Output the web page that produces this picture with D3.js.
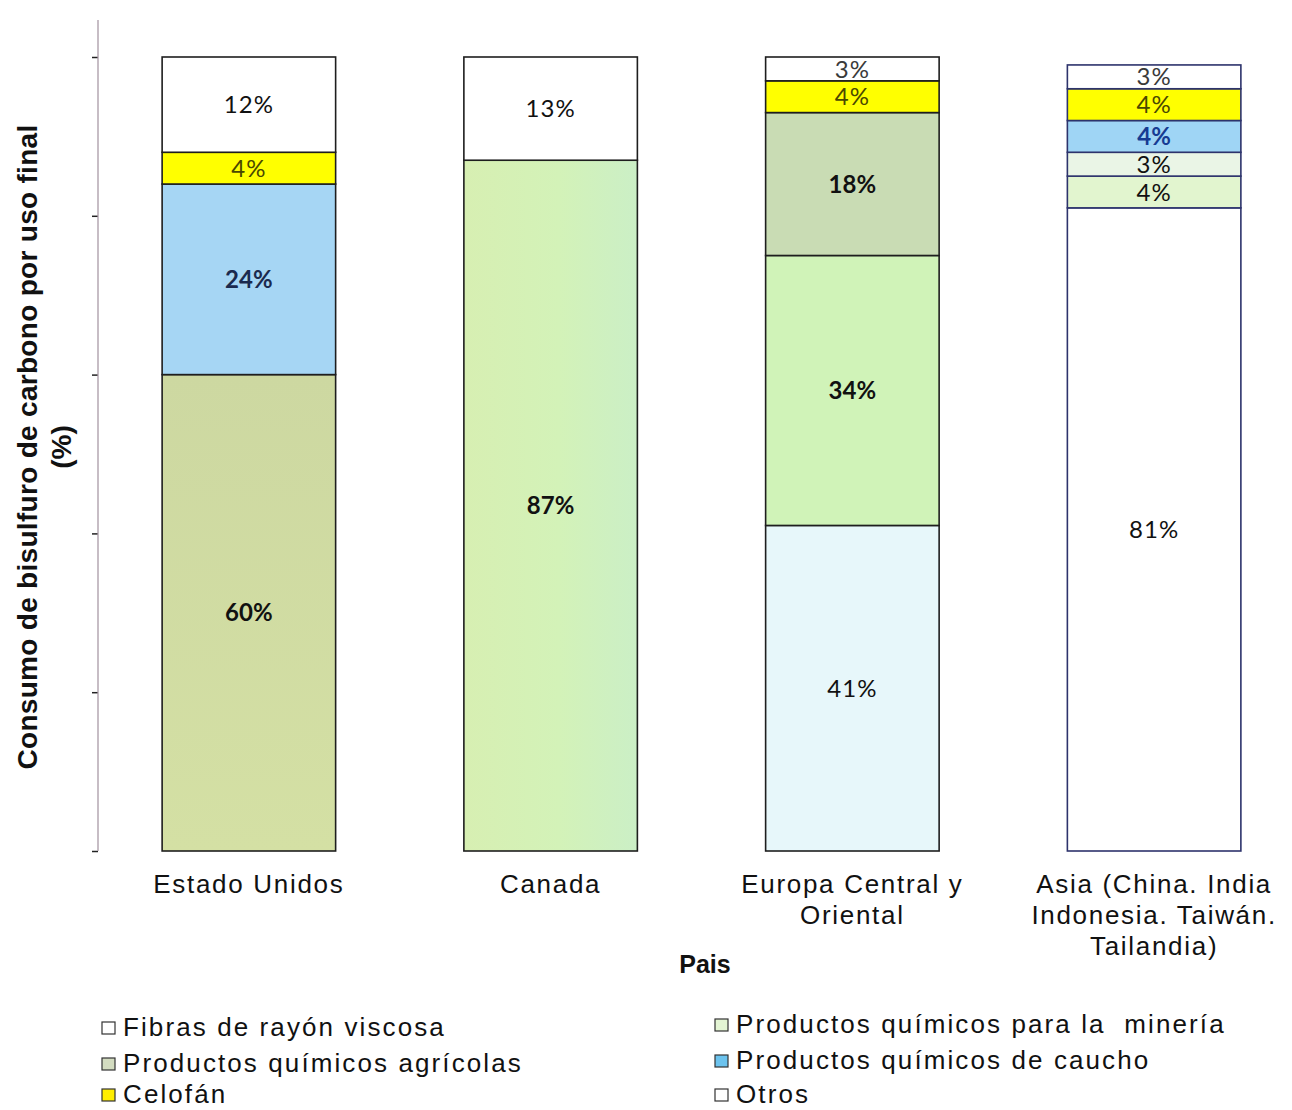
<!DOCTYPE html>
<html>
<head>
<meta charset="utf-8">
<script src="https://cdn.jsdelivr.net/npm/d3@7"></script>
<style>
  html, body { margin: 0; padding: 0; background: #fff; }
  svg { display: block; }
</style>
</head>
<body>
<svg id="chart" width="1292" height="1110"></svg>
<script>
// Countries / regions on the x axis
const countries = ["Estado Unidos", "Canada", "Europa Central y Oriental", "Asia"];
const countryLines = [
  ["Estado Unidos"],
  ["Canada"],
  ["Europa Central y", "Oriental"],
  ["Asia (China. India", "Indonesia. Taiwán.", "Tailandia)"]
];

// End uses, stacked bottom to top
const seriesKeys = ["fibras", "mineria", "agricolas", "caucho", "celofan", "otros"];
const seriesNames = {
  fibras: "Fibras de rayón viscosa",
  agricolas: "Productos químicos agrícolas",
  celofan: "Celofán",
  mineria: "Productos químicos para la  minería",
  caucho: "Productos químicos de caucho",
  otros: "Otros"
};

// Share of carbon disulfide consumption (%) per end use
const fibras    = [0,  0,  41, 81];
const mineria   = [0,  87, 34, 4];
const agricolas = [60, 0,  18, 3];
const caucho    = [24, 0,  0,  4];
const celofan   = [4,  0,  4,  4];
const otros     = [12, 13, 3,  3];

const yTicks = [0, 20, 40, 60, 80, 100];

// Legend layout: left column then right column
const legendLeft = ["fibras", "agricolas", "celofan"];
const legendRight = ["mineria", "caucho", "otros"];

// ---- styling ----
const baseColor = {
  fibras: "#ffffff",
  mineria: "#d2f1b9",
  agricolas: "#cfd9a2",
  caucho: "#a6d6f4",
  celofan: "#ffff00",
  otros: "#ffffff"
};
// region-specific shades
const shade = {
  "Europa Central y Oriental|fibras": "#e7f7fa",
  "Europa Central y Oriental|agricolas": "#c9dcb4",
  "Europa Central y Oriental|mineria": "#d0f3b8",
  "Asia|mineria": "#e2f5cf",
  "Asia|agricolas": "#eaf5e6",
  "Asia|caucho": "#9fd5f5"
};
const boldLabels = new Set([
  "Estado Unidos|agricolas", "Estado Unidos|caucho", "Canada|mineria",
  "Europa Central y Oriental|mineria", "Europa Central y Oriental|agricolas",
  "Asia|caucho"
]);
const labelColor = {
  celofan: "#4a4800",
  otros: "#3a3a3a"
};
const labelColorOverride = {
  "Estado Unidos|caucho": "#1b2a4e",
  "Asia|caucho": "#163b92",
  "Estado Unidos|otros": "#111",
  "Canada|otros": "#111"
};
const legendSwatch = {
  fibras: "#ffffff", agricolas: "#d3dcc0", celofan: "#ffee00",
  mineria: "#e4f5d4", caucho: "#6cc3ee", otros: "#ffffff"
};

const svg = d3.select("#chart");

// Gradients for the Canada mining block and the US agricultural block
const defs = svg.append("defs");
const g1 = defs.append("linearGradient").attr("id", "gradMin").attr("x1", "0").attr("x2", "1").attr("y1", "0").attr("y2", "0");
g1.append("stop").attr("offset", "0%").attr("stop-color", "#d7efb2");
g1.append("stop").attr("offset", "55%").attr("stop-color", "#d3f2b8");
g1.append("stop").attr("offset", "100%").attr("stop-color", "#cbefc6");
const g2 = defs.append("linearGradient").attr("id", "gradAgr").attr("x1", "0").attr("x2", "0").attr("y1", "0").attr("y2", "1");
g2.append("stop").attr("offset", "0%").attr("stop-color", "#cdd8a1");
g2.append("stop").attr("offset", "100%").attr("stop-color", "#d4e0a4");

const rows = countries.map((c, i) => ({
  country: c,
  fibras: fibras[i], mineria: mineria[i], agricolas: agricolas[i],
  caucho: caucho[i], celofan: celofan[i], otros: otros[i]
}));

const x = d3.scaleBand()
  .domain(countries)
  .range([98, 1305])
  .paddingInner(0.425)
  .paddingOuter(0.2125);

const y = d3.scaleLinear().domain([0, 100]).range([851, 57]);

const stack = d3.stack().keys(seriesKeys);
const layers = stack(rows);

// Y axis: line with outward ticks and no labels
const axisG = svg.append("g").attr("transform", "translate(98,0)");
axisG.call(d3.axisLeft(y).tickValues(yTicks).tickSize(6).tickFormat(""));
axisG.select(".domain").remove();
axisG.selectAll(".tick line").attr("stroke", "#222").attr("stroke-width", 1.5);
axisG.append("line")
  .attr("x1", 0).attr("x2", 0).attr("y1", 20).attr("y2", y(0))
  .attr("stroke", "#a99aa6").attr("stroke-width", 1.3);

function fillFor(country, key) {
  const k = country + "|" + key;
  if (k === "Canada|mineria") return "url(#gradMin)";
  if (k === "Estado Unidos|agricolas") return "url(#gradAgr)";
  return shade[k] || baseColor[key];
}

const barsG = svg.append("g");
layers.forEach(layer => {
  const key = layer.key;
  layer.forEach(seg => {
    const country = seg.data.country;
    const v = seg.data[key];
    if (!v) return;
    const isAsia = country === "Asia";
    barsG.append("rect")
      .attr("x", x(country))
      .attr("width", x.bandwidth())
      .attr("y", y(seg[1]))
      .attr("height", y(seg[0]) - y(seg[1]))
      .attr("fill", fillFor(country, key))
      .attr("stroke", isAsia ? "#2d336c" : "#1e1e1e")
      .attr("stroke-width", 1.6);
  });
});

// Value labels
const labelsG = svg.append("g");
layers.forEach(layer => {
  const key = layer.key;
  layer.forEach(seg => {
    const country = seg.data.country;
    const v = seg.data[key];
    if (!v) return;
    const k = country + "|" + key;
    const bold = boldLabels.has(k);
    labelsG.append("text")
      .attr("x", x(country) + x.bandwidth() / 2)
      .attr("y", (y(seg[0]) + y(seg[1])) / 2)
      .attr("dy", "0.36em")
      .attr("text-anchor", "middle")
      .attr("font-family", "Lato, 'Open Sans', sans-serif")
      .attr("font-size", 24)
      .attr("font-weight", bold ? 700 : 400)
      .attr("letter-spacing", bold ? 0 : 1)
      .attr("fill", labelColorOverride[k] || labelColor[key] || "#111")
      .text(v + "%");
  });
});

// Category labels under the bars
const xl = svg.append("g")
  .attr("font-family", "'Liberation Sans', Arial, sans-serif")
  .attr("font-size", 26)
  .attr("letter-spacing", 1.7)
  .attr("fill", "#111")
  .attr("text-anchor", "middle");
countries.forEach((c, i) => {
  countryLines[i].forEach((line, j) => {
    xl.append("text")
      .attr("x", x(c) + x.bandwidth() / 2)
      .attr("y", 893 + j * 31)
      .text(line);
  });
});

// Axis titles
svg.append("text")
  .attr("x", 705).attr("y", 973)
  .attr("text-anchor", "middle")
  .attr("font-family", "'Liberation Sans', Arial, sans-serif")
  .attr("font-size", 25).attr("font-weight", 700).attr("fill", "#111")
  .text("Pais");

const yt = svg.append("g")
  .attr("font-family", "'Liberation Sans', Arial, sans-serif")
  .attr("font-size", 28).attr("font-weight", 700).attr("fill", "#111")
  .attr("text-anchor", "middle");
yt.append("text")
  .attr("transform", "translate(37,447) rotate(-90)")
  .attr("letter-spacing", 0.3)
  .text("Consumo de bisulfuro de carbono por uso final");
yt.append("text")
  .attr("transform", "translate(71,447) rotate(-90)")
  .text("(%)");

// Legend
const lg = svg.append("g")
  .attr("font-family", "'Liberation Sans', Arial, sans-serif")
  .attr("font-size", 26)
  .attr("letter-spacing", 2.1)
  .attr("fill", "#111");
function legendColumn(keys, sx, tx, baselines) {
  keys.forEach((k, i) => {
    lg.append("rect")
      .attr("x", sx).attr("y", baselines[i] - 14)
      .attr("width", 13).attr("height", 12)
      .attr("fill", legendSwatch[k])
      .attr("stroke", "#333").attr("stroke-width", 1.2);
    lg.append("text")
      .attr("x", tx).attr("y", baselines[i])
      .attr("xml:space", "preserve")
      .text(seriesNames[k]);
  });
}
legendColumn(legendLeft, 102, 123, [1036, 1072, 1103]);
legendColumn(legendRight, 715, 736, [1033, 1069, 1103]);
</script>
</body>
</html>
